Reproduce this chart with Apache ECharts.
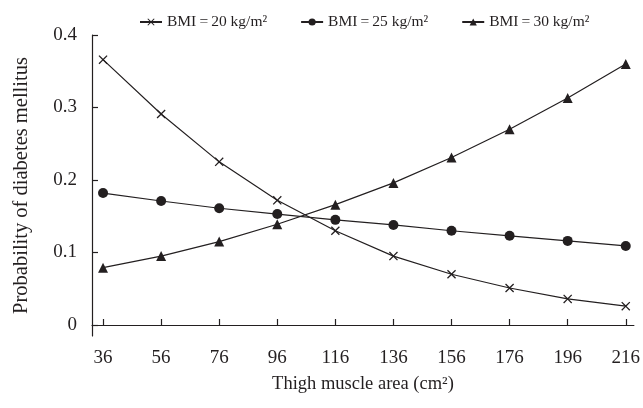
<!DOCTYPE html>
<html>
<head>
<meta charset="utf-8">
<script src="https://cdn.jsdelivr.net/npm/echarts@6/dist/echarts.min.js"></script>
<style>
  html, body { margin: 0; padding: 0; background: #fff; }
  #chart { width: 643px; height: 408px; }
</style>
</head>
<body>
<div id="chart"></div>
<script>
// thigh muscle area (cm2)
var areas = [36, 56, 76, 96, 116, 136, 156, 176, 196, 216];
var bmi20 = [0.366, 0.291, 0.225, 0.172, 0.130, 0.095, 0.070, 0.051, 0.036, 0.026];
var bmi25 = [0.182, 0.171, 0.161, 0.153, 0.145, 0.138, 0.130, 0.123, 0.116, 0.109];
var bmi30 = [0.079, 0.095, 0.115, 0.139, 0.166, 0.196, 0.231, 0.270, 0.313, 0.360];
var yTicks = [0, 0.1, 0.2, 0.3, 0.4];
var names = ['BMI\u2009=\u200920 kg/m\u00b2', 'BMI\u2009=\u200925 kg/m\u00b2', 'BMI\u2009=\u200930 kg/m\u00b2'];

var ink = '#231f20';
var font = '"Liberation Serif", "DejaVu Serif", serif';
// thin x shape, filled so it also shows in the legend
var cross = 'path://M0,1L1,0L5,4L9,0L10,1L6,5L10,9L9,10L5,6L1,10L0,9L4,5Z';

function pairs(vals) {
  return areas.map(function (a, i) { return [a, vals[i]]; });
}

function mk(name, vals, symbol, size) {
  return {
    name: name,
    type: 'line',
    data: pairs(vals),
    symbol: symbol,
    symbolSize: size,
    showAllSymbol: true,
    lineStyle: { color: ink, width: 1.2 },
    itemStyle: { color: ink },
    emphasis: { disabled: true },
    animation: false
  };
}

var chart = echarts.init(document.getElementById('chart'));
chart.setOption({
  backgroundColor: '#fff',
  textStyle: { fontFamily: font, color: ink },
  legend: {
    top: 9,
    left: 134,
    itemWidth: 22,
    itemHeight: 9,
    itemGap: 33,
    textStyle: { fontFamily: font, fontSize: 15.5, color: ink },
    data: names
  },
  grid: { left: 92, right: 9, top: 35, bottom: 72 },
  xAxis: {
    type: 'value',
    min: 32.2,
    max: 218.8,
    name: 'Thigh muscle area (cm\u00b2)',
    nameLocation: 'middle',
    nameGap: 39,
    nameTextStyle: { fontFamily: font, fontSize: 18.5, color: ink },
    axisLine: { lineStyle: { color: ink, width: 1.2 } },
    axisTick: { inside: true, length: 6, customValues: areas, lineStyle: { color: ink, width: 1.2 } },
    axisLabel: { customValues: areas, margin: 13, fontFamily: font, fontSize: 19, color: ink },
    splitLine: { show: false }
  },
  yAxis: {
    type: 'value',
    min: -0.0152,
    max: 0.4,
    name: 'Probability of diabetes mellitus',
    nameLocation: 'middle',
    nameGap: 60,
    nameTextStyle: { fontFamily: font, fontSize: 20.5, color: ink },
    axisLine: { show: true, lineStyle: { color: ink, width: 1.2 } },
    axisTick: { show: true, inside: true, length: 6, customValues: yTicks, lineStyle: { color: ink, width: 1.2 } },
    axisLabel: {
      customValues: yTicks, margin: 15, fontFamily: font, fontSize: 19, color: ink,
      formatter: function (v) { return v === 0 ? '0' : v.toFixed(1); }
    },
    splitLine: { show: false }
  },
  series: [
    mk(names[0], bmi20, cross, 9),
    mk(names[1], bmi25, 'circle', 10),
    mk(names[2], bmi30, 'triangle', 10)
  ]
});
</script>
</body>
</html>
